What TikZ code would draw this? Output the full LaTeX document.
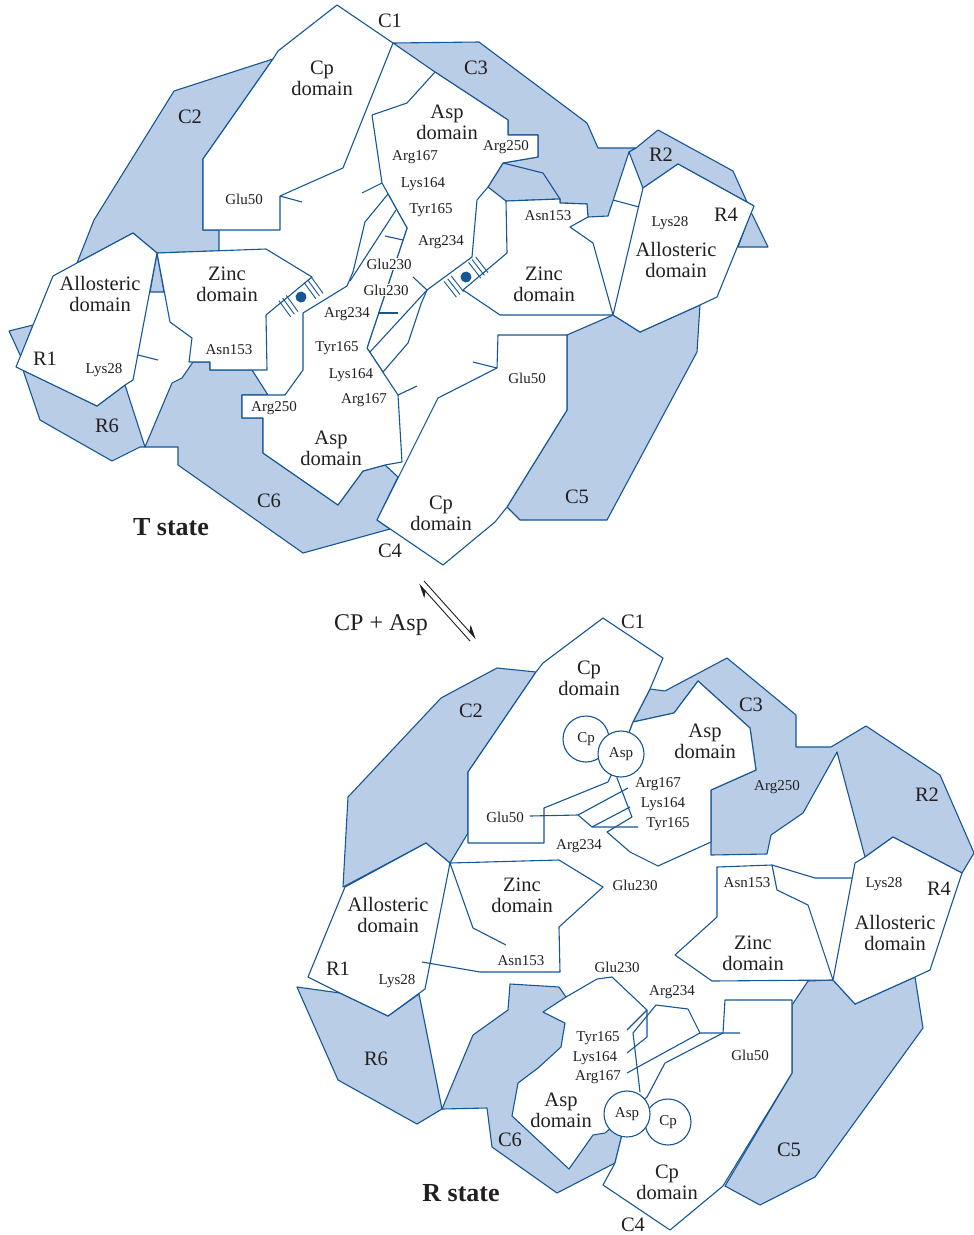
\documentclass[tikz,border=0pt]{standalone}
\usepackage{fontspec}
\setmainfont{Liberation Serif}
\usetikzlibrary{arrows.meta}
\definecolor{edge}{RGB}{22,86,150}
\definecolor{chain}{RGB}{185,205,231}
\definecolor{ink}{RGB}{35,31,32}
\begin{document}
\begin{tikzpicture}[x=1pt,y=-1pt,
  ln/.style={draw=edge,line width=1.1pt,line join=round},
  chainarea/.style={ln,fill=chain},
  dom/.style={ln,fill=white},
  big/.style={text=ink,font=\fontsize{20.5}{21}\selectfont,align=center,inner sep=0pt},
  sm/.style={text=ink,font=\fontsize{15}{15}\selectfont,inner sep=0pt},
  knock/.style={fill=white,inner sep=1pt},
  statelbl/.style={text=ink,font=\fontsize{26}{26}\selectfont\bfseries,inner sep=0pt},
  ligand/.style={circle,draw=edge,line width=1.1pt,fill=white,minimum size=46pt,inner sep=0pt,text=ink,font=\fontsize{15}{15}\selectfont},
  eqline/.style={draw=ink,line width=0.9pt},
  zhatch/.pic={
    \foreach \u in {-20,-15.5,-11,11,15.5,20} \draw[ln,line width=0.9pt] (\u,-10) -- (\u,10);
    \fill[edge] (0,0) circle[radius=5.5pt];
  }
]
\useasboundingbox (0,0) rectangle (974,1235);

%% ================= T state =================
% regulatory / catalytic chain regions
\path[chainarea] (273,59)--(174,91)--(94,220)--(77,263)--(133,233)--(157,253)--(219,251)--(219,230)--(203,230)--(203,159)--cycle;
\path[chainarea] (157,253)--(150,292)--(164,292)--cycle;
\path[chainarea] (393,43)--(479,42)--(587,123)--(598,148)--(636,148)--(629,152)--(608,216)--(588,217)--(587,204)--(560,203)--(560,199)--(506,201)--(488,187)--(503,163)--(538,157)--(538,135)--(508,135)--(508,120)--(505,118)--(435,72)--cycle;
\path[chainarea] (636,148)--(658,130)--(733,171)--(747,202)--(754,206)--(678,164)--(643,188)--(629,152)--cycle;
\path[chainarea] (751,212)--(768,247)--(738,247)--cycle;
\path[chainarea] (567,335)--(613,315)--(640,332)--(700,305)--(697,352)--(607,520)--(520,520)--(507,507)--(567,410)--cycle;
\path[chainarea] (145,447)--(178,447)--(178,465)--(303,553)--(390,529)--(377,520)--(398,477)--(385,465)--(363,471)--(338,505)--(263,453)--(263,418)--(242,418)--(242,395)--(268,395)--(252,370)--(210,370)--(210,362)--(193,362)--(182,378)--(172,383)--cycle;
\path[chainarea] (23,370)--(40,420)--(112,461)--(140,447)--(145,447)--(125,385)--(97,406)--cycle;
\path[chainarea] (9,331)--(33,325)--(21,357)--cycle;

% domains
\path[dom] (337,5)--(393,43)--(343,168)--(280,196)--(280,230)--(203,230)--(203,159)--(273,59)--(278,51)--cycle;
\path[dom] (435,72)--(505,118)--(508,120)--(508,135)--(538,135)--(538,157)--(503,163)--(488,187)--(477,200)--(472,257)--(427,290)--(421,304)--(408,343)--(383,372)--(367,348)--(407,228)--(382,183)--(372,115)--(407,103)--cycle;
\path[dom] (303,313)--(347,286)--(353,272)--(365,222)--(388,194)--(407,228)--(367,348)--(398,395)--(402,462)--(385,465)--(363,471)--(338,505)--(263,453)--(263,418)--(242,418)--(242,395)--(285,395)--(303,370)--cycle;
\path[dom] (157,253)--(266,249)--(312,277)--(266,315)--(267,370)--(210,370)--(210,362)--(189,362)--(192,338)--(170,322)--cycle;
\path[dom] (53,276)--(77,263)--(133,233)--(157,253)--(133,380)--(125,385)--(97,406)--(16,367)--cycle;
\path[dom] (506,201)--(560,199)--(560,203)--(587,204)--(588,217)--(570,227)--(593,243)--(613,315)--(500,315)--(463,290)--(507,253)--cycle;
\path[dom] (643,188)--(678,164)--(754,206)--(717,297)--(700,305)--(640,332)--(613,315)--cycle;
\path[dom] (498,335)--(567,335)--(567,410)--(507,507)--(495,522)--(443,565)--(377,520)--(438,398)--(497,368)--cycle;

% residue lines
\draw[ln] (503,163)--(543,173)--(560,199);
\draw[ln] (613,200)--(639,207);
\draw[ln] (280,196)--(302,202);
\draw[ln] (497,368)--(473,362);
\draw[ln] (138,355)--(158,360);
\draw[ln] (362,193)--(382,183);
\draw[ln] (398,395)--(417,386);
\draw[ln] (385,236)--(403,240);
\draw[ln] (378,313)--(398,313);
\draw[ln] (413,277)--(427,290);
\draw[ln] (396,210)--(350,281);
\draw[ln] (427,290)--(370,352);

% zinc sites
\pic[rotate=38] at (466,277) {zhatch};
\pic[rotate=36] at (301,297) {zhatch};

% labels
\node[big] (tC1) at (390,21) {C1};
\node[big] (tCp1) at (322,78) {Cp\\domain};
\node[big] (tC3) at (476,68) {C3};
\node[big] (tC2) at (190,117) {C2};
\node[big] (tAsp1) at (447,122) {Asp\\domain};
\node[sm] (tR167a) at (415,157) {Arg167};
\node[sm] (tR250a) at (506,147) {Arg250};
\node[sm] (tK164a) at (423,184) {Lys164};
\node[sm] (tY165a) at (431,210) {Tyr165};
\node[sm] (tR234a) at (441,242) {Arg234};
\node[sm,knock] (tE230a) at (389,264) {Glu230};
\node[sm,knock] (tE230b) at (386,290) {Glu230};
\node[sm] (tR234b) at (347,314) {Arg234};
\node[sm] (tY165b) at (337,348) {Tyr165};
\node[sm] (tK164b) at (351,375) {Lys164};
\node[sm] (tR167b) at (364,400) {Arg167};
\node[sm] (tE50a) at (244,199) {Glu50};
\node[big] (tZn1) at (227,284) {Zinc\\domain};
\node[sm] (tN153a) at (229,350) {Asn153};
\node[big] (tAl1) at (100,294) {Allosteric\\domain};
\node[big] (tR1) at (45,359) {R1};
\node[sm] (tK28a) at (104,370) {Lys28};
\node[big] (tR6) at (107,426) {R6};
\node[sm] (tR250b) at (274,408) {Arg250};
\node[big] (tAsp2) at (331,448) {Asp\\domain};
\node[big] (tC6) at (269,501) {C6};
\node[statelbl] (tstate) at (171,527) {T state};
\node[big] (tCp2) at (441,513) {Cp\\domain};
\node[big] (tC4) at (390,551) {C4};
\node[big] (tC5) at (577,497) {C5};
\node[sm] (tE50b) at (527,378) {Glu50};
\node[big] (tZn2) at (544,284) {Zinc\\domain};
\node[sm] (tN153b) at (548,216) {Asn153};
\node[sm] (tK28b) at (670,223) {Lys28};
\node[big] (tR4) at (726,215) {R4};
\node[big] (tAl2) at (676,260) {Allosteric\\domain};
\node[big] (tR2) at (661,155) {R2};

%% ================= equilibrium =================
\node[text=ink,font=\fontsize{24}{24}\selectfont,inner sep=0pt] (eqlbl) at (381,625) {CP + Asp};
\coordinate (eqA1) at (470,641); \coordinate (eqA2) at (419,584);
\coordinate (eqB1) at (424,581); \coordinate (eqB2) at (476,639);
\draw[eqline,-{Stealth[left,length=13pt,width=11pt]}] (eqA1) -- (eqA2);
\draw[eqline,-{Stealth[left,length=13pt,width=11pt]}] (eqB1) -- (eqB2);

%% ================= R state =================
\path[chainarea] (536,672)--(497,668)--(441,698)--(348,797)--(343,887)--(426,843)--(450,863)--(468,833)--(468,772)--cycle;
\path[chainarea] (650,689)--(665,691)--(727,658)--(796,715)--(796,747)--(831,747)--(866,726)--(940,775)--(974,853)--(962,873)--(893,837)--(865,857)--(837,752)--(803,813)--(771,835)--(767,854)--(711,855)--(711,790)--(756,770)--(750,728)--(698,681)--(674,713)--(633,722)--cycle;
\path[chainarea] (808,981)--(833,980)--(855,1004)--(915,977)--(923,1028)--(815,1177)--(760,1205)--(725,1186)--(792,1073)--(792,1005)--cycle;
\path[chainarea] (297,987)--(340,993)--(388,1016)--(419,994)--(442,1109)--(417,1124)--(338,1080)--cycle;
\path[chainarea] (442,1109)--(487,1108)--(492,1147)--(557,1193)--(615,1163)--(627,1114)--(605,1133)--(593,1135)--(569,1169)--(512,1116)--(518,1083)--(538,1068)--(561,1047)--(565,1023)--(543,1012)--(566,997)--(559,987)--(510,984)--(508,1010)--(473,1035)--cycle;

\path[dom] (603,618)--(663,658)--(650,689)--(633,722)--(621,754)--(608,782)--(544,808)--(544,843)--(468,843)--(468,772)--(536,672)--(543,663)--cycle;
\path[dom] (621,754)--(633,722)--(674,713)--(698,681)--(750,728)--(756,770)--(711,790)--(711,842)--(658,866)--(630,852)--(607,832)--(632,817)--(617,778)--cycle;
\path[dom] (345,887)--(426,843)--(450,863)--(425,989)--(388,1016)--(340,993)--(308,977)--cycle;
\path[dom] (717,867)--(772,865)--(777,890)--(808,905)--(833,980)--(712,981)--(675,955)--(717,917)--cycle;
\path[dom] (855,863)--(865,857)--(893,837)--(962,873)--(953,900)--(930,970)--(915,977)--(855,1004)--(833,980)--cycle;
\path[dom] (723,1033)--(725,1000)--(792,1000)--(792,1073)--(723,1186)--(670,1230)--(603,1185)--(615,1163)--(627,1114)--(647,1097)--(665,1063)--cycle;

\draw[ln] (530,816)--(578,815)--(592,827)--(638,827);
\draw[ln] (578,815)--(628,788);
\draw[ln] (592,827)--(630,807);
\draw[ln] (450,863)--(559,860)--(603,887)--(559,927)--(560,972)--(480,972)--(422,962);
\draw[ln] (450,863)--(473,928)--(506,945);
\draw[ln] (772,865)--(815,878)--(852,878);
\draw[ln] (566,997)--(597,979)--(612,977)--(647,1010)--(647,1037)--(627,1053);
\draw[ln] (647,1010)--(627,1030);
\draw[ln] (640,1092)--(633,1033)--(656,1005)--(688,1009)--(700,1033)--(740,1033);
\draw[ln] (700,1033)--(627,1073);

% bound substrates
\node[ligand] (rCpa) at (586,739) {Cp};
\node[ligand] (rAspa) at (621,754) {Asp};
\node[ligand] (rCpb) at (668,1122) {Cp};
\node[ligand] (rAspb) at (627,1114) {Asp};

\node[big] (rC1) at (633,622) {C1};
\node[big] (rCp1) at (589,678) {Cp\\domain};
\node[big] (rC2) at (471,711) {C2};
\node[big] (rC3) at (751,705) {C3};
\node[big] (rAsp1) at (705,741) {Asp\\domain};
\node[sm] (rR167a) at (658,784) {Arg167};
\node[sm] (rK164a) at (663,804) {Lys164};
\node[sm] (rY165a) at (668,824) {Tyr165};
\node[sm] (rR250) at (777,787) {Arg250};
\node[big] (rR2) at (927,795) {R2};
\node[sm] (rE50a) at (505,817) {Glu50};
\node[sm] (rR234a) at (579,846) {Arg234};
\node[big] (rZn1) at (522,895) {Zinc\\domain};
\node[sm] (rE230a) at (635,885) {Glu230};
\node[sm] (rN153a) at (747,883) {Asn153};
\node[sm] (rK28a) at (884,884) {Lys28};
\node[big] (rR4) at (939,889) {R4};
\node[big] (rAl1) at (388,915) {Allosteric\\domain};
\node[big] (rAl2) at (895,933) {Allosteric\\domain};
\node[big] (rZn2) at (753,953) {Zinc\\domain};
\node[big] (rR1) at (338,969) {R1};
\node[sm] (rK28b) at (397,981) {Lys28};
\node[sm] (rN153b) at (521,961) {Asn153};
\node[sm] (rE230b) at (617,967) {Glu230};
\node[sm] (rR234b) at (672,992) {Arg234};
\node[sm] (rY165b) at (598,1038) {Tyr165};
\node[sm] (rK164b) at (595,1058) {Lys164};
\node[sm] (rR167b) at (598,1077) {Arg167};
\node[sm] (rE50b) at (750,1055) {Glu50};
\node[big] (rR6) at (376,1059) {R6};
\node[big] (rAsp2) at (561,1110) {Asp\\domain};
\node[big] (rC6) at (510,1140) {C6};
\node[big] (rC5) at (789,1150) {C5};
\node[big] (rCp2) at (667,1182) {Cp\\domain};
\node[statelbl] (rstate) at (461,1193) {R state};
\node[big] (rC4) at (633,1225) {C4};
\end{tikzpicture}
\end{document}
